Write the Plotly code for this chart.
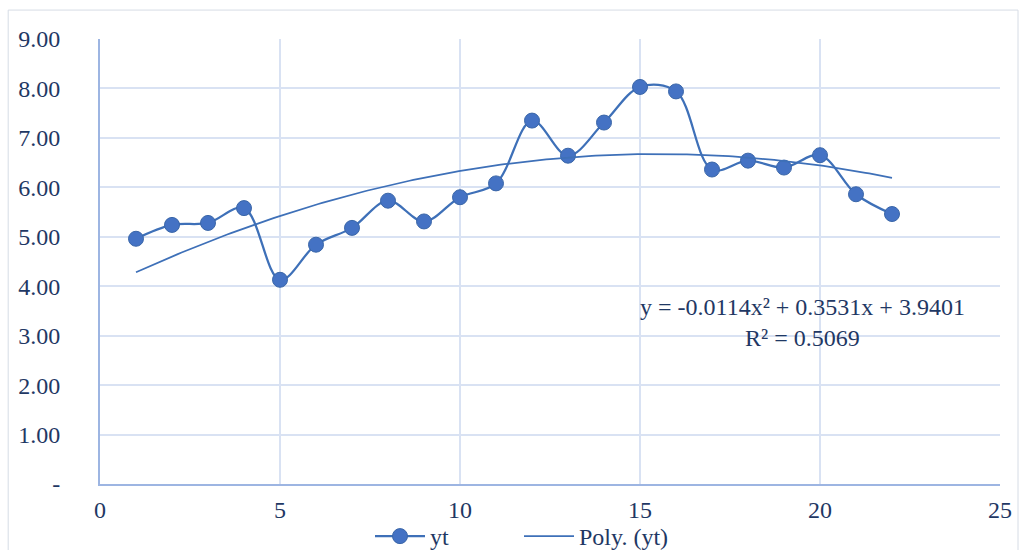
import plotly.graph_objects as go
import numpy as np

periods = list(range(1, 23))
yt = [4.96, 5.24, 5.28, 5.58, 4.13, 4.84, 5.18, 5.73, 5.31, 5.80, 6.08,
      7.35, 6.64, 7.31, 8.03, 7.94, 6.36, 6.54, 6.40, 6.65, 5.86, 5.46]
trend_coef = [-0.0114, 0.3531, 3.9401]
y_tickvals = [0, 1, 2, 3, 4, 5, 6, 7, 8, 9]
y_ticktext = ["-", "1.00", "2.00", "3.00", "4.00", "5.00", "6.00", "7.00", "8.00", "9.00"]
x_tickvals = [0, 5, 10, 15, 20, 25]

blue = "#4472C4"
line_blue = "#3E70B8"
font_fam = "Liberation Serif, Times New Roman, serif"
txt_col = "#1F3864"
fs = 24

xt = np.linspace(1, 22, 200)
yt_trend = np.polyval(trend_coef, xt)

fig = go.Figure()
fig.add_trace(go.Scatter(
    x=periods, y=yt, name="yt", mode="lines+markers",
    line=dict(color=line_blue, width=2.25, shape="spline", smoothing=1.0),
    marker=dict(color=blue, size=15, line=dict(color="#3A66A8", width=1)),
))
fig.add_trace(go.Scatter(
    x=xt, y=yt_trend, name="Poly. (yt)", mode="lines",
    line=dict(color=line_blue, width=1.75),
))

fig.add_annotation(
    x=19.5, y=3.26, xref="x", yref="y",
    text="y = -0.0114x² + 0.3531x + 3.9401<br>R² = 0.5069",
    showarrow=False, align="center",
    font=dict(family=font_fam, size=24, color=txt_col),
)

fig.add_shape(type="rect", xref="paper", yref="paper",
              x0=-0.102, x1=1.02, y0=-0.3, y1=1.065,
              line=dict(color="#D6DCE5", width=1), layer="below")

fig.update_layout(
    width=1019, height=550,
    margin=dict(l=100, r=19, t=39, b=66, autoexpand=False),
    paper_bgcolor="white", plot_bgcolor="white",
    font=dict(family=font_fam, size=fs, color=txt_col),
    showlegend=True,
    legend=dict(orientation="h", x=0.3, xanchor="left", y=-0.118, yanchor="middle",
                bgcolor="rgba(0,0,0,0)",
                font=dict(family=font_fam, size=24, color=txt_col),
                itemwidth=50, entrywidth=84, tracegroupgap=0),
)
fig.update_xaxes(
    range=[0, 25], tickvals=x_tickvals, showgrid=True, gridcolor="#D9E2F3", gridwidth=1.5,
    showline=True, linecolor="#9DB5E2", linewidth=2, zeroline=False,
    ticks="", ticklabelstandoff=3,
)
fig.update_yaxes(
    range=[0, 9], tickvals=y_tickvals, ticktext=y_ticktext, showgrid=True,
    gridcolor="#D9E2F3", gridwidth=1.5,
    showline=True, linecolor="#9DB5E2", linewidth=2, zeroline=False,
    ticks="", ticklabelstandoff=33,
)

fig.write_html("out.html", config={"displayModeBar": False},
               post_script="document.body.style.margin='0';document.body.style.overflow='hidden';")
